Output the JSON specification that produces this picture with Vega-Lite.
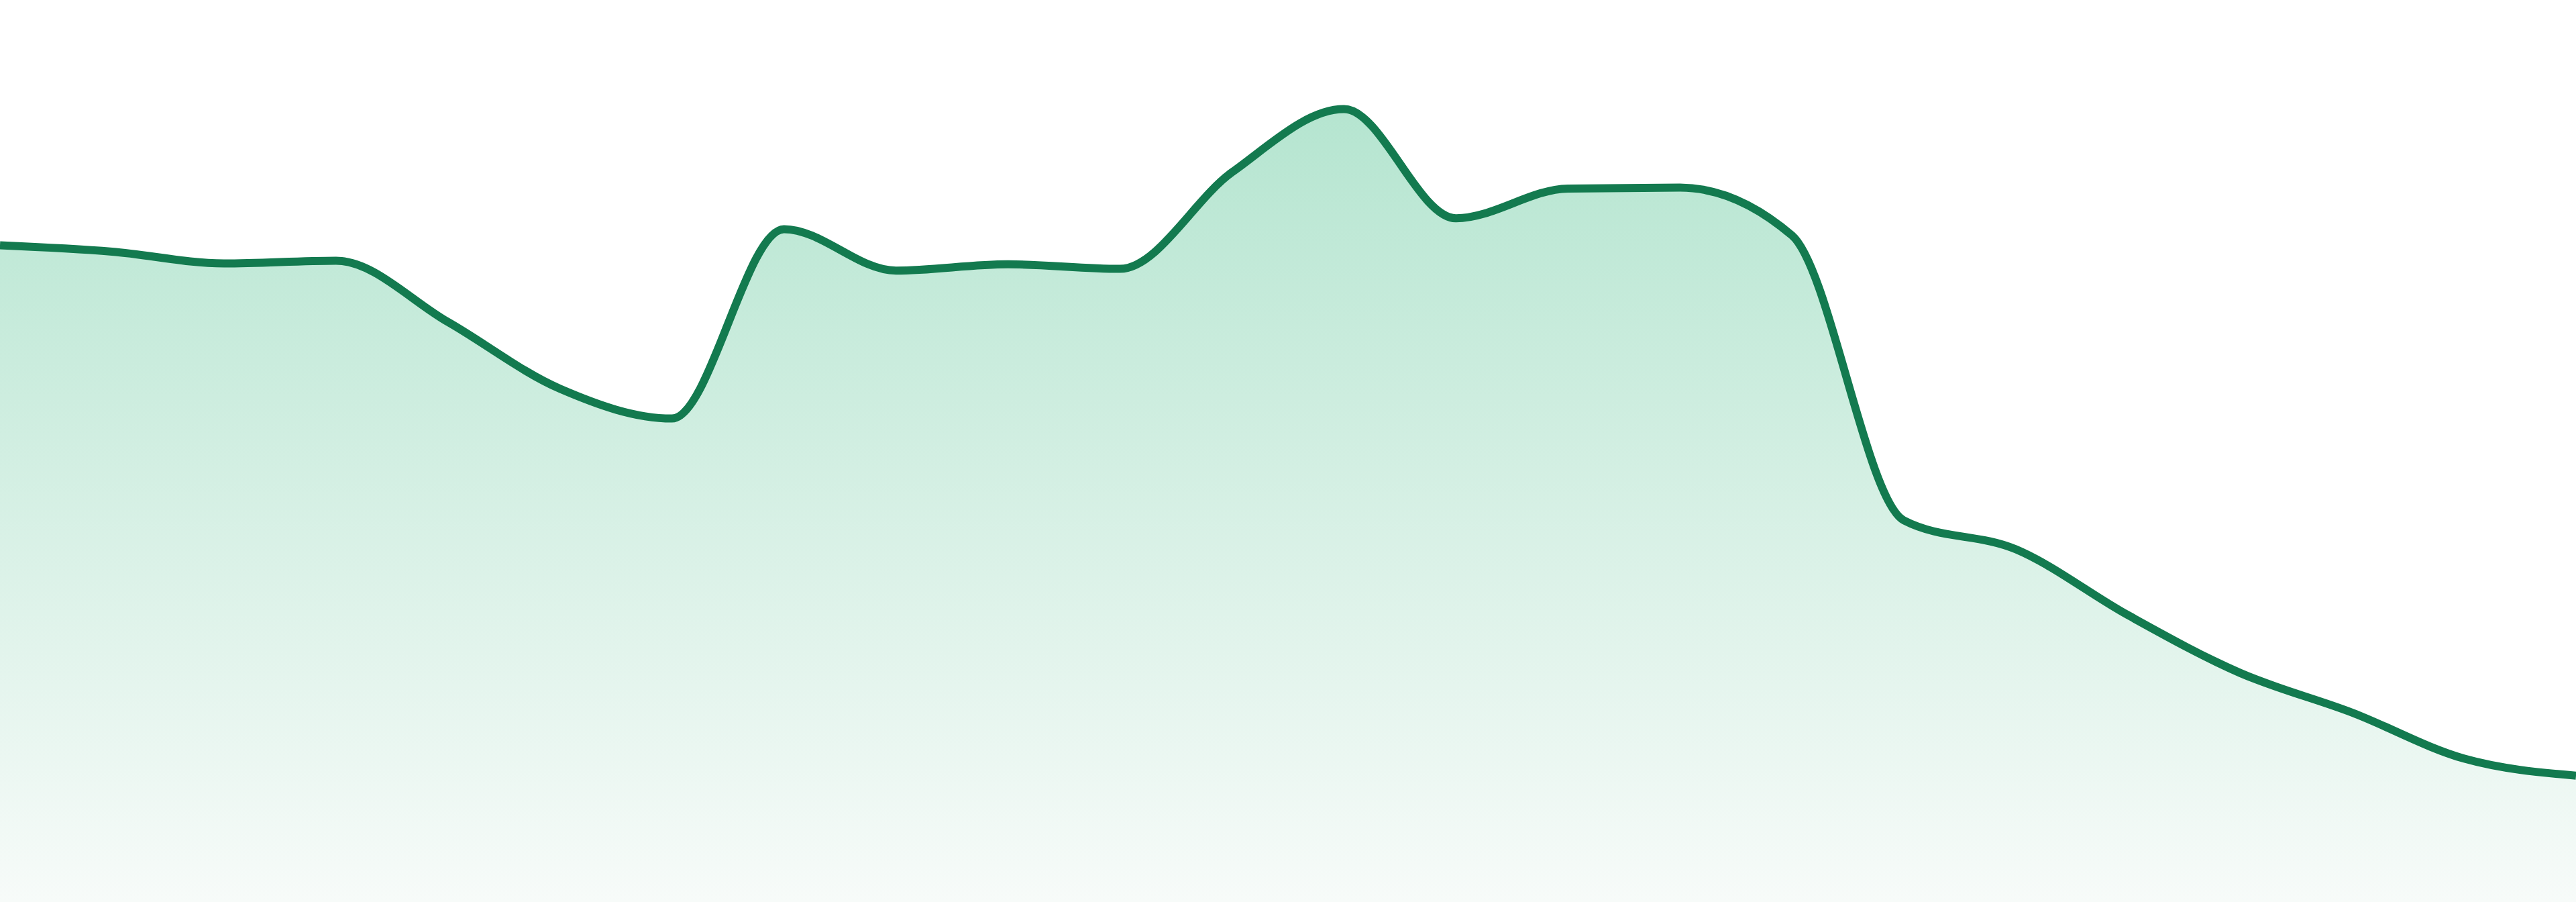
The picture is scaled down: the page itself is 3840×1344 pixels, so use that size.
{
  "$schema": "https://vega.github.io/schema/vega-lite/v6.json",
  "width": 3840,
  "height": 1344,
  "autosize": {"type": "none"},
  "padding": {"left": 0, "top": 0, "right": 0, "bottom": 0},
  "background": "white",
  "config": {"view": {"stroke": null}},
  "data": {
    "values": [
      {"step": 0, "value": 72.8},
      {"step": 1, "value": 72.1},
      {"step": 2, "value": 70.8},
      {"step": 3, "value": 71.1},
      {"step": 4, "value": 64.3},
      {"step": 5, "value": 56.9},
      {"step": 6, "value": 53.6},
      {"step": 7, "value": 74.6},
      {"step": 8, "value": 70.0},
      {"step": 9, "value": 70.7},
      {"step": 10, "value": 70.2},
      {"step": 11, "value": 80.9},
      {"step": 12, "value": 87.9},
      {"step": 13, "value": 75.8},
      {"step": 14, "value": 79.1},
      {"step": 15, "value": 79.2},
      {"step": 16, "value": 73.9},
      {"step": 17, "value": 42.3},
      {"step": 18, "value": 39.1},
      {"step": 19, "value": 31.8},
      {"step": 20, "value": 25.4},
      {"step": 21, "value": 21.0},
      {"step": 22, "value": 15.9},
      {"step": 23, "value": 14.0}
    ]
  },
  "encoding": {
    "x": {"field": "step", "type": "quantitative", "axis": null,
          "scale": {"domain": [0, 23], "nice": false, "zero": false}},
    "y": {"field": "value", "type": "quantitative", "axis": null,
          "scale": {"domain": [0, 100], "nice": false}}
  },
  "layer": [
    {
      "mark": {
        "type": "area",
        "interpolate": "monotone",
        "color": {
          "gradient": "linear",
          "x1": 0, "y1": 0, "x2": 0, "y2": 1,
          "stops": [
            {"offset": 0, "color": "#b5e5d0"},
            {"offset": 1, "color": "#f7fbf9"}
          ]
        }
      }
    },
    {
      "mark": {
        "type": "line",
        "interpolate": "monotone",
        "color": "#137a4f",
        "strokeWidth": 12
      }
    }
  ]
}
